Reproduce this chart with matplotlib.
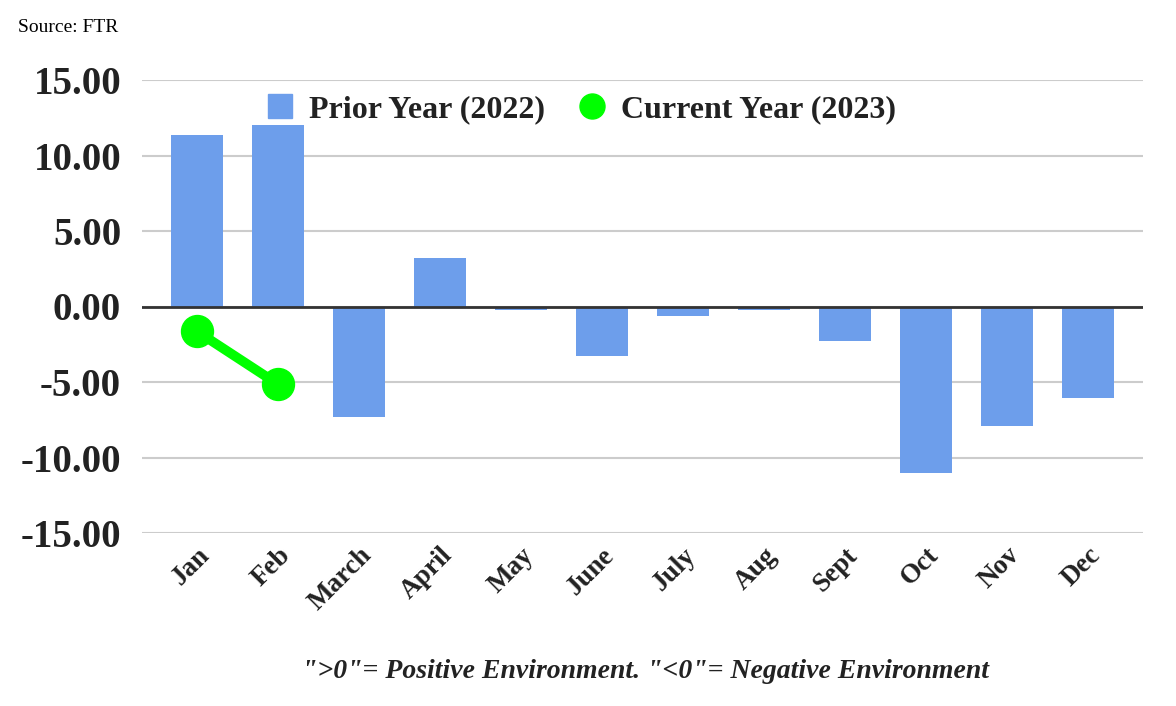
import matplotlib
matplotlib.use("Agg")
import matplotlib.pyplot as plt
import numpy as np
from matplotlib.lines import Line2D

months = ["Jan", "Feb", "March", "April", "May", "June", "July", "Aug", "Sept", "Oct", "Nov", "Dec"]
prior_2022 = [11.35, 12.05, -7.35, 3.2, -0.25, -3.25, -0.6, -0.2, -2.3, -11.05, -7.9, -6.05]
current_months = ["Jan", "Feb"]
current_2023 = [-1.65, -5.15]
yticks = [15, 10, 5, 0, -5, -10, -15]

plt.rcParams['font.family'] = ['Liberation Serif', 'DejaVu Serif']

fig = plt.figure(figsize=(11.76, 7.06), dpi=100)
ax = fig.add_axes([142/1176, 1-533/706, (1143-142)/1176, (533-80)/706])

x = np.arange(len(months))
ax.bar(x, prior_2022, width=0.64, color="#6d9eeb", zorder=2, label="Prior Year (2022)")
xc = [months.index(m) for m in current_months]
ax.plot(xc, current_2023, color="#00ff00", lw=7, marker="o", markersize=23,
        zorder=3, label="Current Year (2023)", solid_capstyle="round")

ax.set_xlim(-0.68, 11.68)
ax.set_ylim(-15, 15)
ax.set_yticks(yticks)
ax.set_yticklabels([f"{v:.2f}" for v in yticks], fontsize=28, fontweight="bold", color="#222222")
ax.yaxis.grid(True, color="#cccccc", lw=1.5, zorder=0)
ax.axhline(0, color="#333333", lw=2, zorder=2.5)
ax.set_xticks(x)
ax.set_xticklabels(months, rotation=45, ha="right", rotation_mode="anchor",
                   fontsize=19.5, fontweight="bold", color="#222222")
ax.tick_params(axis="y", length=0, pad=15)
ax.tick_params(axis="x", length=0, pad=7)
for s in ax.spines.values():
    s.set_visible(False)

handles = [Line2D([], [], marker="s", color="#6d9eeb", lw=0, markersize=17),
           Line2D([], [], marker="o", color="#00ff00", lw=0, markersize=18)]
leg = ax.legend(handles, ["Prior Year (2022)", "Current Year (2023)"], ncol=2, frameon=False,
                loc="center", bbox_to_anchor=((580-142)/1001, (533-110)/453),
                prop={"size": 23, "weight": "bold"}, handletextpad=0.4, columnspacing=1.0,
                handlelength=1.0)
for t in leg.get_texts():
    t.set_color("#222222")

fig.text(18/1176, 1-28/706, "Source: FTR", fontsize=14, va="center", ha="left")
fig.text(645/1176, 1-671/706, '">0"= Positive Environment. "<0"= Negative Environment',
         fontsize=20, fontweight="bold", fontstyle="italic", ha="center", va="center", color="#222222")

fig.savefig("out.png", dpi=100)
